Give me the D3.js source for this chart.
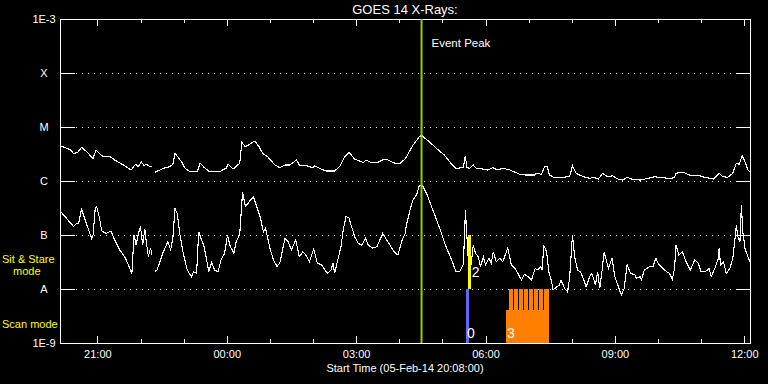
<!DOCTYPE html>
<html>
<head>
<meta charset="utf-8">
<script src="https://cdn.jsdelivr.net/npm/d3@7"></script>
<style>
  html, body { margin: 0; background: #000; }
  svg { display: block; }
  text { font-family: "Liberation Sans", Arial, sans-serif; fill: #fff; }
</style>
</head>
<body>
<div id="chart"></div>
<script>
// plot start 05-Feb-14 20:08:00, 16 hours shown
const startTime = Date.UTC(2014, 1, 5, 20, 8);
const spanMinutes = 960;

const levelValues = [1e-3, 1e-4, 1e-5, 1e-6, 1e-7, 1e-8, 1e-9];
const levelLabels = ["1E-3", "X", "M", "C", "B", "A", "1E-9"];
const gridLevels = [1e-4, 1e-5, 1e-6, 1e-7, 1e-8];

// 1-8 A channel (minutes after start, W/m^2), null = data gap
const longMinutes = [
  0, 8, 15, 19, 25, 30, 37, 46, 50, 55,
  60, 70, 76, 88, 99, 105, 109, 113, 117, 120,
  125, 128, 130, 132, 139, 146, 153, 157, 160, 169,
  174, 181, 191, 195, 201, 208, 222, 231, 234, 241,
  250, 253, 258, 264, 271, 277, 282, 289, 299, 306,
  313, 320, 329, 333, 343, 352, 354, 361, 370, 382,
  389, 396, 402, 410, 422, 426, 433, 442, 451, 456,
  466, 473, 480, 482, 491, 500, 503, 505, 514, 524,
  535, 544, 551, 561, 564, 566, 570, 575, 579, 588,
  595, 602, 609, 616, 626, 633, 640, 647, 660, 663,
  670, 674, 678, 681, 688, 697, 709, 713, 718, 728,
  737, 742, 749, 755, 762, 769, 776, 783, 789, 795,
  807, 818, 827, 837, 848, 855, 857, 867, 878, 890,
  897, 909, 917, 922, 929, 936, 941, 945, 949, 953,
  957, 960
];
const longFlux = [
  4.5e-6, 4.1e-6, 3.75e-6, 3.2e-6, 3.45e-6, 4.2e-6, 3.5e-6, 2.6e-6, 3.75e-6, 3.25e-6,
  2.8e-6, 2.8e-6, 2.45e-6, 1.98e-6, 1.6e-6, 2.04e-6, 1.84e-6, 2.28e-6, 1.92e-6, 2.04e-6,
  1.84e-6, 1.84e-6, null, 1.45e-6, 1.6e-6, 1.76e-6, 1.84e-6, 2.06e-6, 3.25e-6, 2.28e-6,
  1.72e-6, 1.49e-6, 1.49e-6, 2.13e-6, 1.76e-6, 1.49e-6, 1.49e-6, 1.72e-6, 2.04e-6, 1.67e-6,
  2.13e-6, 5.2e-6, 4.3e-6, 4.8e-6, 5.5e-6, 4.3e-6, 3.25e-6, 2.8e-6, 1.98e-6, 1.76e-6,
  1.98e-6, 1.98e-6, 2.45e-6, 1.98e-6, 1.92e-6, 1.76e-6, 1.92e-6, 1.72e-6, 1.53e-6, 1.53e-6,
  1.84e-6, 2.8e-6, 3.4e-6, 2.55e-6, 2.2e-6, 2.45e-6, 2.2e-6, 2.2e-6, 2.55e-6, 2.45e-6,
  2.13e-6, 2.13e-6, 2.55e-6, 2.8e-6, 4.6e-6, 6.6e-6, 7.1e-6, 6.6e-6, 5.3e-6, 4.0e-6,
  3.0e-6, 2.13e-6, 1.72e-6, 1.76e-6, 2.95e-6, 1.76e-6, 1.72e-6, 1.98e-6, 1.72e-6, 1.67e-6,
  1.6e-6, 1.76e-6, 1.6e-6, 1.72e-6, 1.6e-6, 1.45e-6, 1.33e-6, 1.29e-6, 1.29e-6, 1.39e-6,
  1.33e-6, 1.84e-6, 1.84e-6, 1.29e-6, 1.15e-6, 1.17e-6, 1.2e-6, 1.92e-6, 1.39e-6, 1.2e-6,
  1.12e-6, 1.17e-6, 1.09e-6, 1.39e-6, 1.2e-6, 1.25e-6, 1.09e-6, 1.04e-6, 1.17e-6, 1.09e-6,
  1.04e-6, 1.12e-6, 1.2e-6, 1.15e-6, 1.12e-6, 1.15e-6, 1.39e-6, 1.45e-6, 1.25e-6, 1.25e-6,
  1.17e-6, 1.09e-6, 1.39e-6, 1.2e-6, 1.17e-6, 1.39e-6, 2.13e-6, 2.04e-6, 2.95e-6, 2.28e-6,
  1.6e-6, 1.49e-6
];

// 0.5-4 A channel
const shortMinutes = [
  0, 7, 13, 19, 23, 26, 30, 33, 39, 44,
  46, 49, 51, 55, 58, 64, 71, 76, 83, 90,
  95, 100, 103, 106, 109, 112, 115, 118, 120, 123,
  126, 128, 130, 132, 135, 139, 143, 147, 150, 154,
  157, 160, 163, 167, 171, 177, 183, 186, 190, 193,
  197, 200, 204, 207, 211, 215, 220, 224, 229, 233,
  237, 242, 245, 250, 254, 258, 263, 269, 273, 279,
  283, 286, 292, 297, 302, 306, 313, 317, 322, 328,
  333, 338, 343, 347, 353, 358, 364, 372, 377, 380,
  382, 387, 391, 394, 398, 402, 405, 410, 415, 420,
  425, 429, 435, 441, 449, 456, 465, 470, 476, 480,
  482, 487, 491, 496, 500, 504, 510, 517, 524, 530,
  537, 544, 551, 556, 561, 563, 564, 566, 568, 570,
  572, 575, 578, 582, 585, 589, 592, 597, 600, 603,
  607, 612, 616, 623, 628, 633, 637, 642, 646, 651,
  656, 661, 665, 669, 671, 673, 677, 680, 684, 686,
  691, 695, 697, 702, 706, 709, 713, 716, 720, 724,
  728, 732, 737, 740, 745, 748, 751, 754, 757, 760,
  763, 768, 772, 776, 781, 785, 789, 794, 800, 802,
  807, 809, 813, 820, 825, 829, 833, 839, 844, 848,
  852, 855, 857, 861, 866, 871, 877, 883, 888, 892,
  898, 903, 906, 911, 916, 917, 919, 923, 927, 932,
  936, 939, 941, 943, 946, 948, 950, 953, 957, 960
];
const shortFlux = [
  2.8e-7, 2.2e-7, 1.76e-7, 1.43e-7, 1.65e-7, 1.65e-7, 3.1e-7, 2.28e-7, 1.33e-7, 8.7e-8,
  1.0e-7, 3.1e-7, 3.35e-7, 2.04e-7, 1.19e-7, 1.07e-7, 1.19e-7, 8.1e-8, 5.3e-8, 3.96e-8,
  2.8e-8, 1.95e-8, 1.0e-7, 6.5e-8, 1.07e-7, 1.43e-7, 6.5e-8, 1.29e-7, 7.5e-8, 3.96e-8,
  5.8e-8, 4.26e-8, null, 2.09e-8, 2.25e-8, 3.2e-8, 4.6e-8, 6.1e-8, 7.5e-8, 5.3e-8,
  8.7e-8, 3.1e-7, 2.52e-7, 1.0e-7, 4.9e-8, 2.25e-8, 1.69e-8, 2.09e-8, 1.95e-8, 1.15e-7,
  8.1e-8, 6.5e-8, 3.45e-8, 2.09e-8, 3.1e-8, 2.25e-8, 2.09e-8, 3.45e-8, 4.6e-8, 1.0e-7,
  6.1e-8, 4.6e-8, 7.5e-8, 1.0e-7, 6.3e-7, 3.35e-7, 4.1e-7, 5.1e-7, 3.6e-7, 2.04e-7,
  1.15e-7, 1.33e-7, 5.7e-8, 3.45e-8, 2.6e-8, 3.1e-8, 8.7e-8, 7.7e-8, 5.3e-8, 8.1e-8,
  3.96e-8, 4.9e-8, 4.1e-8, 3.2e-8, 5.5e-8, 3.0e-8, 2.8e-8, 1.95e-8, 2.25e-8, 3.0e-8,
  1.95e-8, 3.7e-8, 6.1e-8, 1.24e-7, 2.2e-7, 2.09e-7, 1.53e-7, 9.3e-8, 7.0e-8, 6.5e-8,
  8.7e-8, 6.5e-8, 5.7e-8, 6.1e-8, 1.07e-7, 7.5e-8, 4.9e-8, 4.26e-8, 8.1e-8, 1.03e-7,
  1.53e-7, 2.9e-7, 4.45e-7, 5.5e-7, 8.4e-7, 8.4e-7, 5.9e-7, 3.35e-7, 1.9e-7, 1.15e-7,
  6.1e-8, 3.7e-8, 2.09e-8, 2.09e-8, 2.8e-8, 1.07e-7, 2.9e-7, 1.0e-7, 3.7e-8, 5.3e-8,
  2.8e-8, 6.5e-8, 4.6e-8, 3.96e-8, 2.6e-8, 3.96e-8, 2.8e-8, 3.7e-8, 3.0e-8, 4.9e-8,
  3.2e-8, 3.7e-8, 3.2e-8, 5.7e-8, 2.8e-8, 2.4e-8, 1.95e-8, 1.47e-8, 1.87e-8, 1.69e-8,
  1.47e-8, 2.4e-8, 2.25e-8, 2.6e-8, 2.25e-8, 6.5e-8, 4.9e-8, 2.09e-8, 1.37e-8, 9.6e-9,
  1.1e-8, 1.19e-8, 1.47e-8, 1.03e-8, 8.9e-9, 1.58e-8, 1.0e-7, 3.96e-8, 2.25e-8, 2.09e-8,
  1.58e-8, 1.1e-8, 1.69e-8, 1.95e-8, 1.19e-8, 2.09e-8, 1.03e-8, 2.09e-8, 4.8e-8, 3.45e-8,
  2.4e-8, 3.7e-8, 1.69e-8, 1.19e-8, 7.7e-9, 1.03e-8, 2.8e-8, 1.95e-8, 1.82e-8, 1.58e-8,
  1.69e-8, 1.47e-8, 2.25e-8, 2.6e-8, 2.6e-8, 3.7e-8, 2.87e-8, 2.4e-8, 2.09e-8, 1.95e-8,
  1.53e-8, 2.4e-8, 6.5e-8, 4.26e-8, 4.9e-8, 3.2e-8, 2.25e-8, 3.45e-8, 3.0e-8, 2.09e-8,
  2.09e-8, 2.4e-8, 1.69e-8, 2.4e-8, 3.7e-8, 5.7e-8, 2.8e-8, 3.2e-8, 1.95e-8, 2.4e-8,
  3.7e-8, 8.1e-8, 1.53e-7, 9.3e-8, 7.5e-8, 3.6e-7, 1.15e-7, 5.7e-8, 3.96e-8, 3.2e-8
];

const eventPeakMinute = 503;

// observations: mode row, start/end minute, label
const obsMode = ["scan", "stare", "scan"];
const obsStart = [565, 568, 620.5];
const obsEnd = [569, 571.5, 680.5];
const obsLabel = ["0", "2", "3"];
const obsColor = ["#6464ff", "#ffff00", "#ff8000"];
// raster steps of observation 3
const rasterStart = [625, 632, 639, 646, 653, 660, 667, 674];
const rasterEnd = [630, 637, 644, 651, 658, 665, 672, 680.5];

const width = 768, height = 384;
const margin = { top: 19, right: 18, bottom: 41, left: 60 };
const x0 = margin.left, x1 = width - margin.right;
const y0 = height - margin.bottom, y1 = margin.top;

const toDate = m => new Date(startTime + m * 60000);

const svg = d3.select("#chart").append("svg")
  .attr("width", width)
  .attr("height", height)
  .style("background", "#000");

const x = d3.scaleUtc()
  .domain([toDate(0), toDate(spanMinutes)])
  .range([x0, x1]);
const y = d3.scaleLog()
  .domain([1e-9, 1e-3])
  .range([y0, y1]);

// title
svg.append("text")
  .attr("x", (x0 + x1) / 2)
  .attr("y", 14)
  .attr("text-anchor", "middle")
  .style("font-size", "13px")
  .text("GOES 14 X-Rays:");

// dotted grid at flare classes
svg.append("g").selectAll("line")
  .data(gridLevels)
  .enter()
  .append("line")
  .attr("x1", x0 + 16)
  .attr("x2", x1 - 14)
  .attr("y1", d => Math.round(y(d)) + 0.5)
  .attr("y2", d => Math.round(y(d)) + 0.5)
  .attr("stroke", "#fff")
  .attr("stroke-dasharray", "1,5")
  .attr("shape-rendering", "crispEdges");

// class ticks both sides
const lvTicks = svg.append("g").attr("stroke", "#fff").attr("shape-rendering", "crispEdges");
gridLevels.forEach(v => {
  const yy = Math.round(y(v)) + 0.5;
  lvTicks.append("line").attr("x1", x0).attr("x2", x0 + 15).attr("y1", yy).attr("y2", yy);
  lvTicks.append("line").attr("x1", x1 - 14).attr("x2", x1).attr("y1", yy).attr("y2", yy);
});

// level labels
svg.append("g").selectAll("text")
  .data(levelValues)
  .enter()
  .append("text")
  .attr("x", 44)
  .attr("y", d => y(d))
  .attr("dy", "0.36em")
  .attr("text-anchor", "middle")
  .style("font-size", "11px")
  .text((d, i) => levelLabels[i]);

// time axes, top and bottom
const hourTicks = d3.utcHour.every(1).range(toDate(0), toDate(spanMinutes));
const isMajor = d => d.getUTCHours() % 3 === 0;
const fmt = d3.utcFormat("%H:%M");

svg.append("g")
  .attr("transform", `translate(0,${y0})`)
  .call(d3.axisBottom(x).tickValues(hourTicks).tickSize(0).tickFormat(d => isMajor(d) ? fmt(d) : ""))
  .call(g => g.select(".domain").remove())
  .call(g => g.selectAll("text").attr("fill", "#fff").attr("dy", "1.05em")
    .style("font-size", "11px").style("font-family", "'Liberation Sans', Arial, sans-serif"));

const tk = svg.append("g").attr("stroke", "#fff").attr("shape-rendering", "crispEdges");
hourTicks.forEach(d => {
  const xx = Math.round(x(d)) + 0.5;
  const len = isMajor(d) ? 7 : 4;
  tk.append("line").attr("x1", xx).attr("x2", xx).attr("y1", y0).attr("y2", y0 - len);
  tk.append("line").attr("x1", xx).attr("x2", xx).attr("y1", y1).attr("y2", y1 + len);
});

svg.append("text")
  .attr("x", (x0 + x1) / 2)
  .attr("y", 372)
  .attr("text-anchor", "middle")
  .style("font-size", "11px")
  .text("Start Time (05-Feb-14 20:08:00)");

// frame
svg.append("rect")
  .attr("x", x0 + 0.5)
  .attr("y", y1 + 0.5)
  .attr("width", x1 - x0)
  .attr("height", y0 - y1)
  .attr("fill", "none")
  .attr("stroke", "#fff")
  .attr("shape-rendering", "crispEdges");

// flux curves
const line = d3.line()
  .defined(d => d[1] !== null)
  .x(d => x(toDate(d[0])))
  .y(d => y(d[1]));

[[longMinutes, longFlux], [shortMinutes, shortFlux]].forEach(([ms, fs]) => {
  svg.append("path")
    .datum(ms.map((m, i) => [m, fs[i]]))
    .attr("fill", "none")
    .attr("stroke", "#fff")
    .attr("stroke-width", 1.1)
    .attr("shape-rendering", "crispEdges")
    .attr("d", line);
});

// mode rows
const rowTop = { stare: y(1e-7), scan: y(1e-8) };
const rowBottom = { stare: y(1e-8), scan: y(1e-9) };

const obs = svg.append("g").attr("shape-rendering", "crispEdges");
obsMode.forEach((mode, i) => {
  const xa = x(toDate(obsStart[i])), xb = x(toDate(obsEnd[i]));
  const top = i === 2 ? rowBottom[mode] - 0.61 * (rowBottom[mode] - rowTop[mode]) : rowTop[mode];
  obs.append("rect")
    .attr("x", xa)
    .attr("y", top)
    .attr("width", xb - xa)
    .attr("height", rowBottom[mode] - top)
    .attr("fill", obsColor[i]);
});
rasterStart.forEach((s, i) => {
  const xa = x(toDate(s)), xb = x(toDate(rasterEnd[i]));
  obs.append("rect")
    .attr("x", xa)
    .attr("y", rowTop.scan)
    .attr("width", xb - xa)
    .attr("height", rowBottom.scan - rowTop.scan)
    .attr("fill", obsColor[2]);
});
obsMode.forEach((mode, i) => {
  obs.append("text")
    .attr("x", x(toDate(mode === "stare" ? obsEnd[i] : obsStart[i])) + 1)
    .attr("y", rowBottom[mode] - (mode === "stare" ? 12 : 5))
    .style("font-size", "14px")
    .text(obsLabel[i]);
});

// event peak marker
svg.append("line")
  .attr("x1", x(toDate(eventPeakMinute)))
  .attr("x2", x(toDate(eventPeakMinute)))
  .attr("y1", y1)
  .attr("y2", y0)
  .attr("stroke", "#99cc00")
  .attr("stroke-width", 2);
svg.append("text")
  .attr("x", x(toDate(eventPeakMinute)) + 10)
  .attr("y", 47)
  .style("font-size", "11.5px")
  .text("Event Peak");

// mode captions
const cap = svg.append("g").style("font-size", "11px");
cap.append("text").attr("x", 2).attr("y", 263).style("fill", "#ffff00").text("Sit & Stare");
cap.append("text").attr("x", 13).attr("y", 275).style("fill", "#ffff00").text("mode");
cap.append("text").attr("x", 2).attr("y", 328).style("fill", "#ffff00").text("Scan mode");
</script>
</body>
</html>
